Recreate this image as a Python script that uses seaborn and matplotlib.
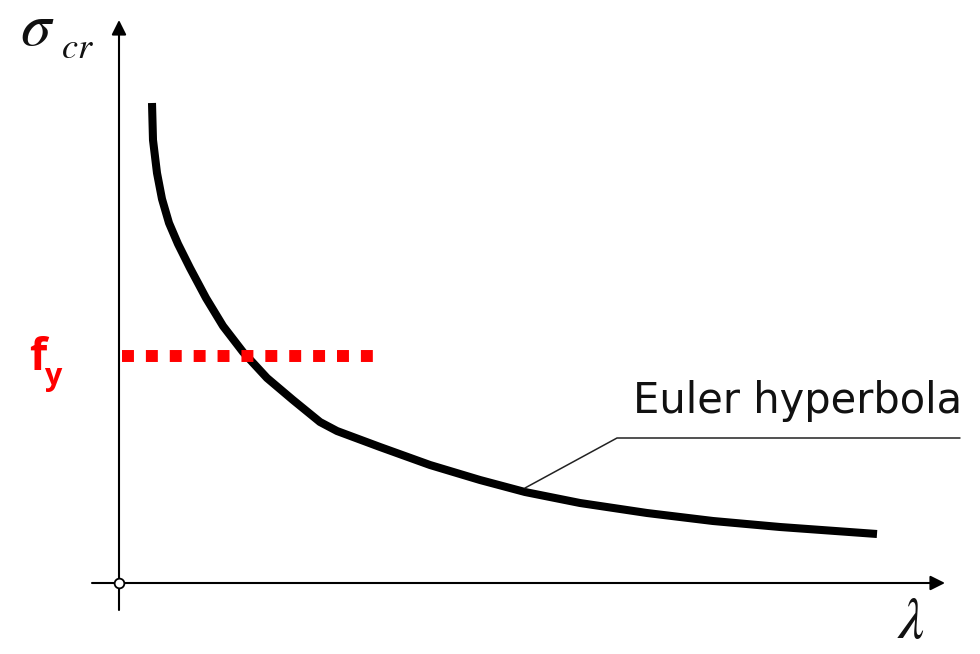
import matplotlib
matplotlib.use("Agg")
import matplotlib.pyplot as plt
import seaborn as sns
import pandas as pd

# Euler curve (slenderness lambda vs critical stress)
lam = [33, 34, 38, 43, 50, 59, 71, 87, 104, 124, 148, 174, 201, 218,
       261, 311, 361, 406, 461, 528, 594, 661, 758]
sigma_cr = [480, 443, 410, 384, 360, 339, 315, 285, 257, 231, 205, 183, 161,
            152, 136, 118, 103, 91, 80, 70, 62, 56, 49]

# yield stress level (red dotted line)
fy_x = [3, 255]
fy_y = [227, 227]

# leader line to the "Euler hyperbola" label
leader_x = [406, 498, 841]
leader_y = [95, 145, 145]

sns.set_theme(style="white")
plt.rcParams["mathtext.fontset"] = "stix"

fig = plt.figure(figsize=(9.8, 6.54), dpi=100)
ax = fig.add_axes([0, 0, 1, 1])
ax.set_xlim(-119, 861)
ax.set_ylim(-71, 583)
ax.axis("off")

# axes with arrows
arrow = dict(arrowstyle="-|>", lw=1.5, color="black", mutation_scale=22,
             shrinkA=0, shrinkB=0)
ax.annotate("", xy=(0, 563), xytext=(0, -27), arrowprops=arrow)
ax.annotate("", xy=(826, 0), xytext=(-27, 0), arrowprops=arrow)
ax.plot([0], [0], marker="o", ms=7, mfc="white", mec="black", mew=1.3,
        zorder=5)

# curve
curve = pd.DataFrame({"lam": lam, "sigma": sigma_cr})
sns.lineplot(data=curve, x="lam", y="sigma", sort=False, color="black",
             lw=5.8, ax=ax, solid_capstyle="butt", solid_joinstyle="round")

# f_y dotted line
ax.plot(fy_x, fy_y, color="#ff0000", lw=8.6, linestyle=(0, (1, 1)),
        dash_capstyle="butt", zorder=4)

# leader line
ax.plot(leader_x, leader_y, color="#222222", lw=1.1)

ax.text(514, 170, "Euler hyperbola", fontsize=30, family="DejaVu Sans",
        ha="left", va="baseline", color="#111111")
ax.text(-99, 538, r"$\sigma$", fontsize=44, ha="left", va="baseline",
        color="#111111")
ax.text(-58, 525, r"$cr$", fontsize=26, ha="left", va="baseline",
        color="#111111")
ax.text(778, -55, r"$\lambda$", fontsize=42, ha="left", va="baseline",
        color="#111111")
ax.text(-90, 213, "f", fontsize=32, fontweight="bold", family="Open Sans",
        color="#ff0000", ha="left", va="baseline")
ax.text(-75, 198, "y", fontsize=22, fontweight="bold", family="Open Sans",
        color="#ff0000", ha="left", va="baseline")

fig.savefig("out.png", dpi=100)
